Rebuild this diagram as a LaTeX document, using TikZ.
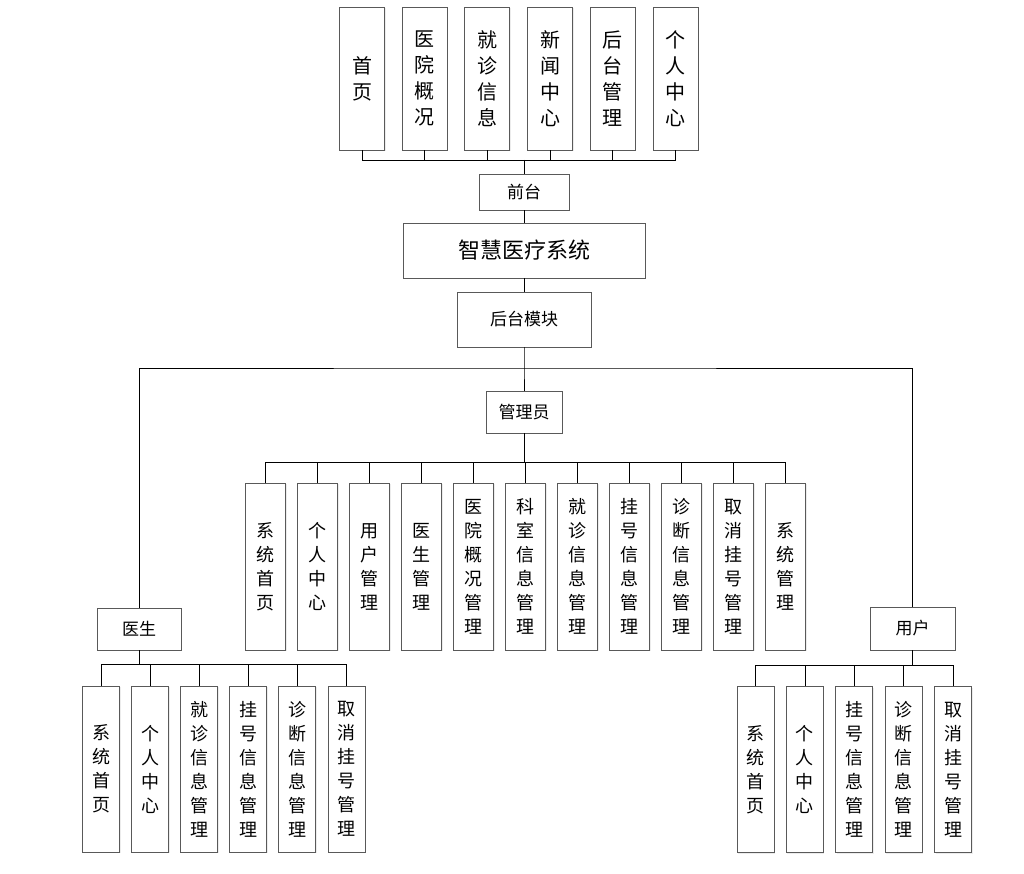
\documentclass[tikz,border=0pt]{standalone}
\usepackage{fontspec}
\setmainfont{Noto Sans CJK SC}
\usetikzlibrary{shadows}
\begin{document}
\begin{tikzpicture}[x=1pt,y=-1pt]
		\tikzstyle{all} = [draw=black!65, line width=0.9pt, align=center, inner sep=0pt, fill=white,
			drop shadow={shadow xshift=1pt, shadow yshift=-1pt, opacity=0.15}]
		\tikzstyle{topbox} = [all, minimum width=45pt, minimum height=143pt, font=\fontsize{20pt}{26pt}\selectfont]
		\tikzstyle{subbox} = [all, minimum width=40pt, minimum height=167pt, font=\fontsize{18pt}{24pt}\selectfont]
		\tikzstyle{leafbox} = [all, minimum width=37pt, minimum height=166pt, font=\fontsize{18pt}{24pt}\selectfont]
		\tikzstyle{label} = [all, font=\fontsize{17pt}{20pt}\selectfont]
		\tikzstyle{link} = [draw=black, line width=0.8pt]
		\useasboundingbox (0,0) rectangle (1024,874);
		% front end
		\foreach \txt [count=\i from 0] in {首\\页, 医\\院\\概\\况, 就\\诊\\信\\息, 新\\闻\\中\\心, 后\\台\\管\\理, 个\\人\\中\\心}
			\node[topbox] (front\i) at ({362+62.7*\i},78.5) {\txt};
		\node[label, minimum width=90pt, minimum height=36pt] (qiantai) at (524,192) {前台};
		\node[all, minimum width=242pt, minimum height=55pt, font=\fontsize{22pt}{26pt}\selectfont] (system) at (524,250.5) {智慧医疗系统};
		\node[label, minimum width=134pt, minimum height=55pt] (backend) at (524,319.5) {后台模块};
		% roles
		\node[label, minimum width=76pt, minimum height=42pt] (admin) at (524,412) {管理员};
		\node[label, minimum width=84pt, minimum height=42pt] (doctor) at (139,629) {医生};
		\node[label, minimum width=85pt, minimum height=43pt] (user) at (912.5,628.5) {用户};
		% admin functions
		\foreach \txt [count=\i from 0] in {系\\统\\首\\页, 个\\人\\中\\心, 用\\户\\管\\理, 医\\生\\管\\理, 医\\院\\概\\况\\管\\理, 科\\室\\信\\息\\管\\理, 就\\诊\\信\\息\\管\\理, 挂\\号\\信\\息\\管\\理, 诊\\断\\信\\息\\管\\理, 取\\消\\挂\\号\\管\\理, 系\\统\\管\\理}
			\node[subbox] (adm\i) at ({265.5+52*\i},566.5) {\txt};
		% doctor functions
		\foreach \txt [count=\i from 0] in {系\\统\\首\\页, 个\\人\\中\\心, 就\\诊\\信\\息\\管\\理, 挂\\号\\信\\息\\管\\理, 诊\\断\\信\\息\\管\\理, 取\\消\\挂\\号\\管\\理}
			\node[leafbox] (doc\i) at ({101+49.1*\i},769) {\txt};
		% user functions
		\foreach \txt [count=\i from 0] in {系\\统\\首\\页, 个\\人\\中\\心, 挂\\号\\信\\息\\管\\理, 诊\\断\\信\\息\\管\\理, 取\\消\\挂\\号\\管\\理}
			\node[leafbox] (usr\i) at ({755.5+49.4*\i},769.5) {\txt};
		% bus points
		\coordinate (busfront) at (524,160);
		\coordinate (busrole) at (524,368);
		\coordinate (busadm) at (524,462);
		\coordinate (busdoc) at (139,664.5);
		\coordinate (bususr) at (912.5,665);
		% connectors
		\foreach \i in {0,...,5}
			\draw[link] (front\i.south) |- (busfront);
		\draw[link] (busfront) -- (qiantai.north);
		\draw[link] (qiantai.south) -- (system.north);
		\draw[link] (system.south) -- (backend.north);
		\draw[link] (backend.south) -- (busrole) -- (admin.north);
		\draw[link] (doctor.north) |- (busrole) -| (user.north);
		\draw[link] (admin.south) -- (busadm);
		\foreach \i in {0,...,10}
			\draw[link] (busadm) -| (adm\i.north);
		\draw[link] (doctor.south) -- (busdoc);
		\foreach \i in {0,...,5}
			\draw[link] (busdoc) -| (doc\i.north);
		\draw[link] (user.south) -- (bususr);
		\foreach \i in {0,...,4}
			\draw[link] (bususr) -| (usr\i.north);
\end{tikzpicture}
\end{document}
